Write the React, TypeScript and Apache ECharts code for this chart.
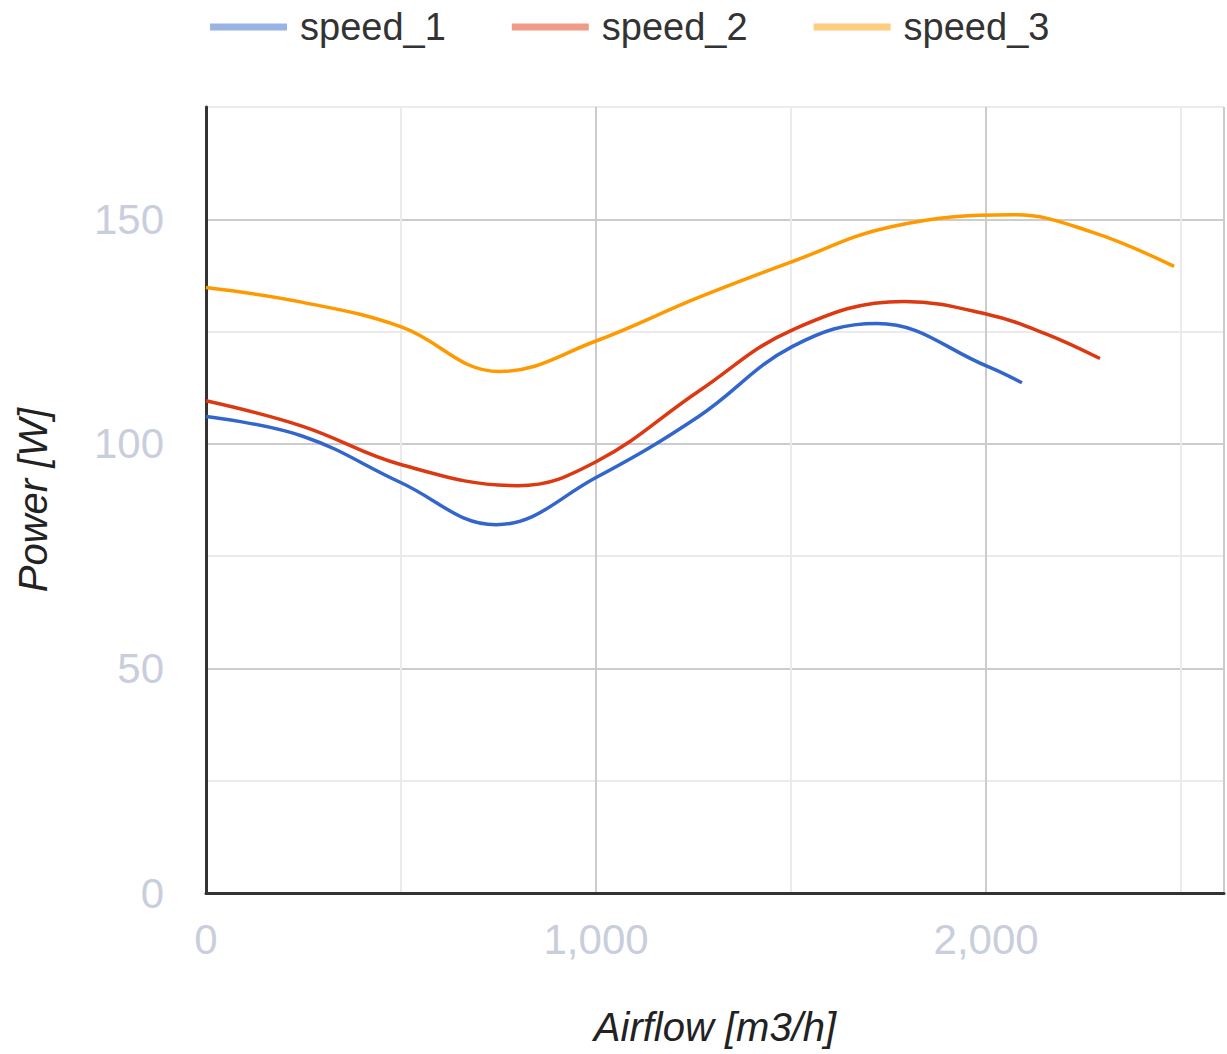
import React, { useEffect, useRef } from "react";
import * as echarts from "echarts";

const seriesNames = ["speed_1", "speed_2", "speed_3"];
const lineColors = ["#3366cc", "#dc3912", "#ff9900"];
const legendColors = ["#9ab3e5", "#ef9b87", "#ffcc80"];

const speed1: [number, number][] = [
  [0, 106.1], [248, 101.7], [499, 91.4], [744, 82.0], [1000, 92.5],
  [1263, 106.1], [1504, 121.7], [1720, 126.8], [2005, 117.2], [2092, 113.6],
];
const speed2: [number, number][] = [
  [0, 109.6], [248, 103.9], [499, 95.4], [800, 90.7], [1000, 96.0],
  [1263, 111.7], [1504, 125.4], [1790, 131.7], [2005, 128.8], [2150, 124.6], [2292, 119.0],
];
const speed3: [number, number][] = [
  [0, 134.8], [248, 131.5], [499, 126.1], [752, 116.1], [1000, 122.9],
  [1263, 132.6], [1504, 140.6], [1754, 148.3], [2070, 151.0], [2270, 147.2], [2482, 139.5],
];
const allSeries = [speed1, speed2, speed3];

const xMax = 2610;
const yMax = 175;

const FONT = "'Liberation Sans', Arial, sans-serif";

export default function App() {
  const ref = useRef<HTMLDivElement>(null);
  useEffect(() => {
    if (!ref.current) return;
    const chart = echarts.init(ref.current, null, { renderer: "svg" });
    chart.setOption({
      animation: false,
      backgroundColor: "#ffffff",
      textStyle: { fontFamily: FONT },
      legend: {
        left: 205,
        top: 3,
        icon: "rect",
        itemWidth: 77,
        itemHeight: 7,
        itemGap: 66,
        textStyle: { fontSize: 38, color: "#333", fontFamily: FONT, padding: [0, 0, 0, 8] },
        data: seriesNames.map((n, i) => ({ name: n, itemStyle: { color: legendColors[i] } })),
      },
      grid: { left: 206, right: 0, top: 107, bottom: 161 },
      xAxis: {
        type: "value",
        min: 0,
        max: xMax,
        interval: 500,
        name: "Airflow [m3/h]",
        nameLocation: "middle",
        nameGap: 114,
        nameTextStyle: { fontSize: 40, fontStyle: "italic", color: "#222", fontFamily: FONT },
        axisLine: { show: true, onZero: false, lineStyle: { color: "#333", width: 3 } },
        axisTick: { show: false },
        axisLabel: {
          fontSize: 42,
          color: "#c9cedc",
          margin: 25,
          fontFamily: FONT,
          formatter: (v: number) => (v % 1000 === 0 ? v.toLocaleString("en-US") : ""),
        },
        splitLine: { show: true, lineStyle: { color: ["#cccccc", "#ebebeb"], width: 2 } },
      },
      yAxis: {
        type: "value",
        min: 0,
        max: yMax,
        interval: 25,
        name: "Power [W]",
        nameLocation: "middle",
        nameGap: 153,
        nameTextStyle: { fontSize: 40, fontStyle: "italic", color: "#222", fontFamily: FONT },
        axisLine: { show: true, lineStyle: { color: "#333", width: 3 } },
        axisTick: { show: false },
        axisLabel: {
          fontSize: 42,
          color: "#c9cedc",
          margin: 42,
          fontFamily: FONT,
          formatter: (v: number) => (v % 50 === 0 ? String(v) : ""),
        },
        splitLine: { show: true, lineStyle: { color: ["#cccccc", "#ebebeb"], width: 2 } },
      },
      series: allSeries.map((d, i) => ({
        name: seriesNames[i],
        type: "line",
        data: d,
        smooth: 0.4,
        showSymbol: false,
        lineStyle: { color: lineColors[i], width: 3.5 },
        itemStyle: { color: lineColors[i] },
      })),
    });
    return () => chart.dispose();
  }, []);
  return (
    <div
      ref={ref}
      style={{ position: "fixed", left: 0, top: 0, width: 1227, height: 1054 }}
    />
  );
}
